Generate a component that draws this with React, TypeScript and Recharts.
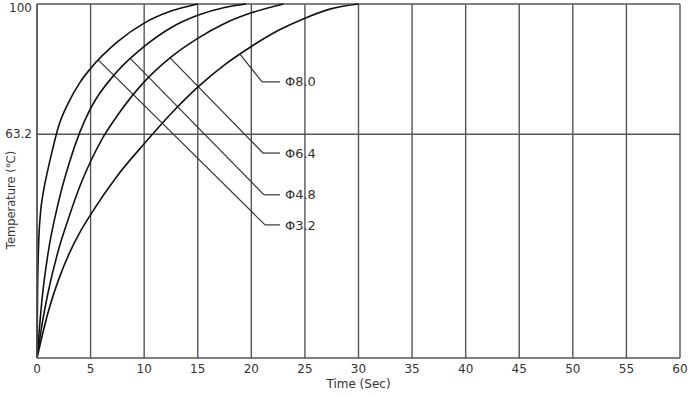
import { CartesianGrid, Line, LineChart, ReferenceLine, XAxis, YAxis } from "recharts";

// time axis (sec) and temperature axis (%)
const TIME_TICKS = [0, 5, 10, 15, 20, 25, 30, 35, 40, 45, 50, 55, 60];
const TEMP_TICKS = [63.2, 100];

// response curves, [time, temperature]
const PHI_32: [number, number][] = [
  [0, 0], [0.05, 18], [0.15, 32], [0.3, 40], [0.6, 47], [1, 53], [1.5, 59.5], [2, 65.3],
  [3, 72.5], [4, 77.8], [5, 81.8], [7.5, 89.3], [10, 94.6], [12.5, 98], [15, 100],
];
const PHI_48: [number, number][] = [
  [0, 0], [0.5, 17.5], [1, 29], [2, 44], [3, 55], [4, 63.8], [5, 70.5], [7.5, 81],
  [10, 88], [12.5, 93.3], [15, 96.8], [17.5, 99], [19.5, 100],
];
const PHI_64: [number, number][] = [
  [0, 0], [0.5, 10], [1, 18], [2, 30.5], [3, 40], [4, 48.5], [5, 55.5], [6, 61.5],
  [7.5, 68.5], [10, 78], [12.5, 85], [15, 90.3], [17.5, 94.5], [20, 97.5], [23, 100],
];
const PHI_80: [number, number][] = [
  [0, 0], [0.5, 6.5], [1, 12.5], [2, 22], [3, 29.5], [4, 35.5], [5, 40.5], [7.5, 51.5],
  [10, 60.5], [12.5, 69], [15, 76.5], [17.5, 82.8], [20, 88], [22.5, 92.5], [25, 96],
  [27.5, 98.7], [30, 100],
];

// callouts: label, point on curve, elbow, end of the short tail
const CALLOUT_LABELS = ["Φ3.2", "Φ4.8", "Φ6.4", "Φ8.0"];
const CALLOUT_START: [number, number][] = [[5.71, 84.2], [8.74, 84.5], [12.42, 84.8], [18.95, 85.8]];
const CALLOUT_ELBOW: [number, number][] = [[21.28, 37.6], [21.18, 46.1], [21.09, 57.9], [21.0, 78.0]];
const CALLOUT_END_T = 22.67;

const toRows = (pts: [number, number][]) => pts.map(([t, v]) => ({ t, v }));

const SERIES = [
  { name: "Φ3.2", data: toRows(PHI_32) },
  { name: "Φ4.8", data: toRows(PHI_48) },
  { name: "Φ6.4", data: toRows(PHI_64) },
  { name: "Φ8.0", data: toRows(PHI_80) },
];

const FONT = "'DejaVu Sans', Verdana, sans-serif";
const GRID = "#55555c";
const TEXT = "#333";

// the top tick sits right at the edge, nudge it down so it stays readable
function TempTick({ x, y, payload }: any) {
  const shift = payload.value === 100 ? 4 : 0;
  return (
    <text x={x} y={y + shift} textAnchor="end" dominantBaseline="central" fontSize={12} fill={TEXT} fontFamily={FONT}>
      {payload.value}
    </text>
  );
}

export default function App() {
  return (
    <div style={{ position: "absolute", left: 0, top: 0, background: "#fff" }}>
      <LineChart
        width={690}
        height={397}
        margin={{ top: 4, right: 10, left: 0, bottom: 9 }}
        style={{ fontFamily: FONT }}
      >
        <CartesianGrid horizontal={false} stroke={GRID} strokeWidth={1.4} />
        <XAxis
          type="number"
          dataKey="t"
          domain={[0, 60]}
          ticks={TIME_TICKS}
          interval={0}
          allowDuplicatedCategory={false}
          tickLine={false}
          tickSize={4}
          axisLine={{ stroke: GRID, strokeWidth: 1.4 }}
          tick={{ fontSize: 12, fill: TEXT, fontFamily: FONT }}
          height={30}
          label={{ value: "Time (Sec)", position: "insideBottom", offset: 0, fontSize: 12, fill: TEXT, fontFamily: FONT }}
        />
        <YAxis
          type="number"
          domain={[0, 100]}
          ticks={TEMP_TICKS}
          interval={0}
          width={37}
          tickLine={false}
          tickSize={3}
          axisLine={{ stroke: GRID, strokeWidth: 1.4 }}
          tick={<TempTick />}
          label={{
            value: "Temperature (℃)",
            content: ({ viewBox }: any) => {
              const cx = viewBox.x + 11;
              const cy = viewBox.y + viewBox.height / 2 + 19;
              return (
                <text
                  x={cx}
                  y={cy}
                  transform={`rotate(-90, ${cx}, ${cy})`}
                  textAnchor="middle"
                  dominantBaseline="central"
                  fontSize={11.5}
                  fill={TEXT}
                  fontFamily={FONT}
                >
                  Temperature (℃)
                </text>
              );
            },
          }}
        />
        <ReferenceLine y={100} stroke={GRID} strokeWidth={1.4} />
        <ReferenceLine y={63.2} stroke={GRID} strokeWidth={1.4} />

        {CALLOUT_LABELS.map((lab, i) => (
          <ReferenceLine
            key={lab + "-diag"}
            segment={[
              { x: CALLOUT_START[i][0], y: CALLOUT_START[i][1] },
              { x: CALLOUT_ELBOW[i][0], y: CALLOUT_ELBOW[i][1] },
            ]}
            stroke="#333"
            strokeWidth={1.2}
          />
        ))}
        {CALLOUT_LABELS.map((lab, i) => (
          <ReferenceLine
            key={lab + "-tail"}
            segment={[
              { x: CALLOUT_ELBOW[i][0], y: CALLOUT_ELBOW[i][1] },
              { x: CALLOUT_END_T, y: CALLOUT_ELBOW[i][1] },
            ]}
            stroke="#333"
            strokeWidth={1.2}
            label={{ value: lab, position: "right", offset: 5, fontSize: 13, fill: TEXT, fontFamily: FONT }}
          />
        ))}

        {SERIES.map((s) => (
          <Line
            key={s.name}
            data={s.data}
            dataKey="v"
            name={s.name}
            type="monotone"
            stroke="#111"
            strokeWidth={1.6}
            dot={false}
            activeDot={false}
            isAnimationActive={false}
          />
        ))}
      </LineChart>
    </div>
  );
}
